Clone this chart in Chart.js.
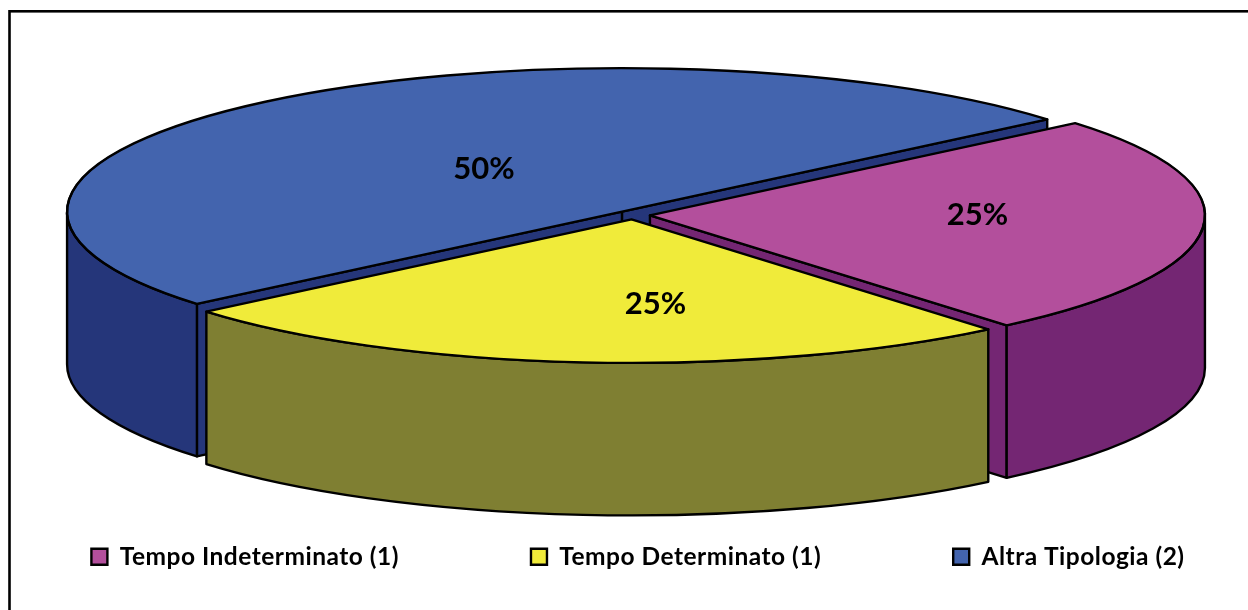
<!DOCTYPE html>
<html>
<head>
<meta charset="utf-8">
<style>
html,body{margin:0;padding:0;background:#fff;overflow:hidden;width:1248px;height:610px}
canvas{display:block}
</style>
<script src="https://cdn.jsdelivr.net/npm/chart.js@4"></script>
</head>
<body>
<canvas id="c" width="1410" height="705"></canvas>
<script>
const categories = ["Tempo Indeterminato (1)", "Tempo Determinato (1)", "Altra Tipologia (2)"];
const values = [1, 1, 2];
const topColors = ["#B34F9C", "#F0EB3A", "#4364AE"];
const wallColors = ["#742673", "#7F7F32", "#25367A"];
const labelAnchors = [[0.59, 0.0], [0.043, 0.593], [-0.249, -0.296]];

const RX = 555, RY = 143.5, CX = 633, CY = 215, DEPTH = 152.5, EXPLODE = 17, LINE = 2.4;
const FONT = "Lato, Carlito, Calibri, sans-serif";
const LEGEND_SPACING = "0.5px";

function frame(ctx) {
  ctx.save();
  ctx.strokeStyle = "#000";
  ctx.lineWidth = 2.6;
  ctx.strokeRect(9.5, 11.3, 1500, 900);
  ctx.restore();
}

const pie3d = {
  id: "pie3d",
  beforeLayout(chart) { chart.ctx.letterSpacing = LEGEND_SPACING; },
  beforeDraw(chart) { chart.ctx.letterSpacing = LEGEND_SPACING; },
  beforeDatasetDraw(chart) {
    const ctx = chart.ctx;
    const arcs = chart.getDatasetMeta(0).data;
    const k = RY / RX;
    frame(ctx);
    // painter's order: back slice first, then right, then front
    const paint = [2, 0, 1];
    ctx.lineWidth = LINE;
    ctx.strokeStyle = "#000";
    ctx.lineJoin = "round";
    for (const i of paint) {
      const arc = arcs[i];
      const a = arc.startAngle, b = arc.endAngle, mid = (a + b) / 2;
      const tx = CX + EXPLODE * Math.cos(mid);
      const ty = CY + EXPLODE * k * Math.sin(mid);
      const rim = t => [tx + RX * Math.cos(t), ty + RY * Math.sin(t)];
      ctx.fillStyle = wallColors[i];
      const face = t => {
        const p = rim(t);
        ctx.beginPath();
        ctx.moveTo(tx, ty);
        ctx.lineTo(p[0], p[1]);
        ctx.lineTo(p[0], p[1] + DEPTH);
        ctx.lineTo(tx, ty + DEPTH);
        ctx.closePath();
        ctx.fill();
        ctx.stroke();
      };
      if (-Math.cos(a) > 0) face(a);
      if (Math.cos(b) > 0) face(b);
      const w0 = Math.max(a, 0), w1 = Math.min(b, Math.PI);
      if (w1 > w0) {
        ctx.beginPath();
        ctx.ellipse(tx, ty, RX, RY, 0, w0, w1);
        ctx.ellipse(tx, ty + DEPTH, RX, RY, 0, w1, w0, true);
        ctx.closePath();
        ctx.fill();
        ctx.stroke();
      }
      ctx.save();
      ctx.translate(tx, ty);
      ctx.scale(1, k);
      ctx.translate(-arc.x, -arc.y);
      arc.draw(ctx);
      ctx.restore();
      ctx.lineWidth = LINE;
      ctx.strokeStyle = "#000";
      ctx.lineJoin = "round";
      ctx.beginPath();
      ctx.moveTo(tx, ty);
      ctx.ellipse(tx, ty, RX, RY, 0, a, b);
      ctx.closePath();
      ctx.stroke();
    }
    const total = values.reduce((s, v) => s + v, 0);
    ctx.save();
    ctx.letterSpacing = "0px";
    ctx.fillStyle = "#000";
    ctx.font = "bold 31px " + FONT;
    ctx.textAlign = "center";
    ctx.textBaseline = "middle";
    arcs.forEach((arc, i) => {
      const mid = (arc.startAngle + arc.endAngle) / 2;
      const tx = CX + EXPLODE * Math.cos(mid);
      const ty = CY + EXPLODE * k * Math.sin(mid);
      ctx.fillText(Math.round(values[i] / total * 100) + "%",
        tx + RX * labelAnchors[i][0], ty + RY * labelAnchors[i][1]);
    });
    ctx.restore();
    return false;
  }
};

new Chart(document.getElementById("c"), {
  type: "pie",
  data: {
    labels: categories,
    datasets: [{
      data: values,
      backgroundColor: topColors,
      borderColor: "#000",
      borderWidth: LINE
    }]
  },
  options: {
    responsive: false,
    animation: false,
    rotation: 50,
    radius: RX,
    layout: { padding: { left: -134, bottom: 126 } },
    plugins: {
      tooltip: { enabled: false },
      legend: {
        position: "bottom",
        labels: {
          boxWidth: 16,
          boxHeight: 16,
          padding: 132,
          color: "#000",
          font: { family: FONT, size: 24.5, weight: "bold" }
        }
      }
    }
  },
  plugins: [pie3d]
});
</script>
</body>
</html>
